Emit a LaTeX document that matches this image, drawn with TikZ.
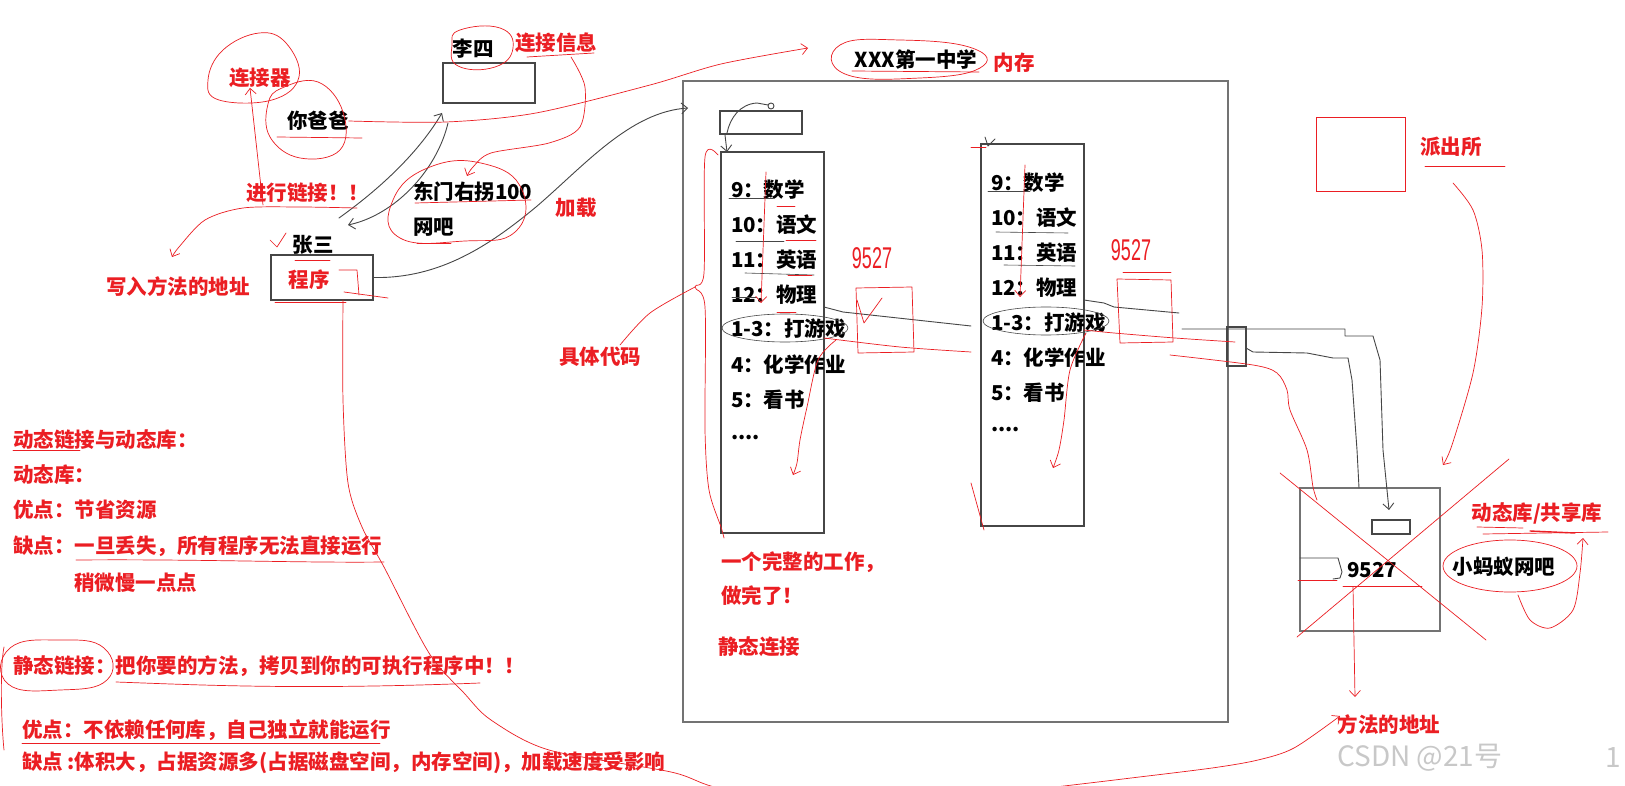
\documentclass[tikz,border=0pt]{standalone}
\usepackage{fontspec}
\setmainfont{Noto Sans CJK SC}
\newfontfamily\numfont{Liberation Sans}
\usetikzlibrary{arrows.meta,calc}
\definecolor{pen}{RGB}{235,30,35}
\definecolor{ink}{RGB}{70,70,70}
\definecolor{wm}{RGB}{200,200,200}
\begin{document}
\begin{tikzpicture}[x=1pt,y=-1pt,
  txt/.style={font=\bfseries\fontsize{20.5}{24}\selectfont, inner sep=0pt, outer sep=0pt},
  ktxt/.style={txt, text=black},
  rtxt/.style={txt, text=pen},
  hand/.style={font=\numfont\fontsize{30}{30}\selectfont, text=pen, xscale=0.6, inner sep=0pt},
  frame/.style={draw=ink, line width=1.1pt, inner sep=0pt, outer sep=0pt, anchor=north west},
  rl/.style={draw=pen, line width=0.7pt, line cap=round, line join=round},
  kl/.style={draw=ink, line width=0.9pt, line cap=round, line join=round},
  tip/.style={-{Straight Barb[length=6pt,width=11pt]}},
]
\useasboundingbox (0,0) rectangle (1625,786);
\fill[white] (0,0) rectangle (1625,786);

% ---------- boxes ----------
\node[frame, draw=black!55, line width=1.4pt, minimum width=545pt, minimum height=641pt] (mem) at (683,81) {};
\node[frame, minimum width=92pt, minimum height=40pt] (lisibox) at (443,63) {};
\node[frame, minimum width=102pt, minimum height=45pt] (prog) at (271,255) {};
\node[frame, minimum width=82pt, minimum height=23pt] (small) at (720,111) {};
\node[frame, minimum width=103pt, minimum height=381pt] (col1) at (721,152) {};
\node[frame, minimum width=103pt, minimum height=382pt] (col2) at (981,144) {};
\node[frame, minimum width=19pt, minimum height=39pt] (port) at (1227,327) {};
\node[frame, draw=black!55, line width=1.2pt, minimum width=140pt, minimum height=143pt] (lib) at (1300,488) {};
\node[frame, minimum width=38pt, minimum height=14pt] (libslot) at (1372,520) {};
\node[frame, draw=pen, line width=0.9pt, minimum width=89pt, minimum height=74pt] (police) at (1316,117) {};

% ---------- black texts ----------
\node[ktxt] (baba) at (318,121) {你爸爸};
\node[ktxt] (lisi) at (473,49) {李四};
\node[ktxt,anchor=west] (dongmen) at (413,192) {东门右拐100};
\node[ktxt,anchor=west] (wangba) at (413,227) {网吧};
\node[ktxt] (zhangsan) at (313,245) {张三};
\node[ktxt] (school) at (916,60) {XXX第一中学};
\foreach \t/\y [count=\i] in {9：数学/190,10：语文/225,11：英语/260,12：物理/295,1-3：打游戏/329,4：化学作业/365,5：看书/400}
  \node[ktxt,anchor=west] (a\i) at (731,\y) {\t};
\node[ktxt,anchor=west] (a8) at (731,438) {....};
\foreach \t/\y [count=\i] in {9：数学/183,10：语文/218,11：英语/253,12：物理/288,1-3：打游戏/323,4：化学作业/358,5：看书/393}
  \node[ktxt,anchor=west] (b\i) at (991,\y) {\t};
\node[ktxt,anchor=west] (b8) at (991,430) {....};
\node[ktxt] (n9527) at (1372,570) {9527};
\node[ktxt] (xiaomayi) at (1504,567) {小蚂蚁网吧};

% ---------- red texts ----------
\node[rtxt] (lianjieqi) at (260,78) {连接器};
\node[rtxt] (xinxi) at (556,43) {连接信息};
\node[rtxt,anchor=west] (jinxing) at (246,193) {进行链接！！};
\node[rtxt] (jiazai) at (576,208) {加载};
\node[rtxt] (chengxu) at (309,280) {程序};
\node[rtxt] (xieru) at (178,287) {写入方法的地址};
\node[rtxt] (neicun) at (1014,63) {内存};
\node[rtxt] (daima) at (600,357) {具体代码};
\node[rtxt,anchor=west] (wanzheng) at (721,562) {一个完整的工作，};
\node[rtxt,anchor=west] (zuowan) at (721,596) {做完了！};
\node[rtxt,anchor=west] (jingtai) at (718,647) {静态连接};
\node[rtxt] (pcs) at (1451,147) {派出所};
\node[rtxt] (dtk) at (1537,513) {动态库/共享库};
\node[rtxt] (ffdz) at (1389,725) {方法的地址};

\node[rtxt,anchor=west] (l1) at (13,440) {动态链接与动态库：};
\node[rtxt,anchor=west] (l2) at (13,475) {动态库：};
\node[rtxt,anchor=west] (l3) at (13,510) {优点：节省资源};
\node[rtxt,anchor=west] (l4) at (13,546) {缺点：一旦丢失，所有程序无法直接运行};
\node[rtxt,anchor=west] (l5) at (74,583) {稍微慢一点点};
\node[rtxt,anchor=west] (l6) at (13,666) {静态链接：把你要的方法，拷贝到你的可执行程序中！！};
\node[rtxt,anchor=west] (l7) at (22,730) {优点：不依赖任何库，自己独立就能运行};
\node[rtxt,anchor=west] (l8) at (22,763) {缺点 :体积大，占据资源多(占据磁盘空间，内存空间)，加载速度受影响};

\node[hand] (h1) at (872,258) {9527};
\node[hand] (h2) at (1131,250) {9527};

\node[font=\fontsize{28}{30}\selectfont, text=wm, inner sep=0pt, anchor=west] (wmk) at (1337,758) {CSDN @21号};
\node[font=\fontsize{28}{30}\selectfont, text=wm, inner sep=0pt, anchor=west] (wmk2) at (1605,758) {1};

% ---------- black strokes ----------
\draw[kl,tip] (prog.east) .. controls (440,279) and (490,245) .. (536,207)
   .. controls (585,165) and (630,112) .. ($(mem.north west)+(5,27)$);
\draw[kl,tip] (339,218) .. controls (385,185) and (420,150) .. (442,113);
\draw[kl,tip] (448,123) .. controls (437,170) and (395,215) .. (348,225);
\draw[kl] (727,133) .. controls (730,118) and (740,104) .. (757,103) -- (768,105);
\draw[kl] (771,106) circle (3);
\draw[kl,tip] (725,135) -- (col1.north west -| 727,154);
\draw[kl] (985,137) -- (988,146) -- (995,139);
\draw[kl] (col1.east |- 0,307) -- (843,312) -- (971,326);
\draw[kl] (col2.east |- 0,300) -- (1104,303) -- (1114,307) -- (1179,313);
\draw[kl] (1182,329) -- (port.north west |- 0,329) -- (1345,329) -- (1345,336) -- (1373,336)
   -- (1380,360) -- (1383,450) [tip] -- (1389,510);
\draw[kl] (1246,348) -- (1253,352) -- (1307,353) -- (1333,358) -- (1348,358) -- (1352,380)
   -- (1357,450) -- (1359,488);
\draw[kl] (1300,558) -- (1338,558) -- (1342,572) -- (1340,578) -- (1333,579);
\draw[ink, line width=0.6pt] (785,328) ellipse [x radius=63, y radius=14];
\draw[ink, line width=0.6pt] (1046,321) ellipse [x radius=63, y radius=14];
% black underlines of list items
\draw[kl, line width=0.6pt] (729,198) -- (773,198);
\draw[kl, line width=0.6pt] (736,241) -- (784,241);
\draw[kl, line width=0.6pt] (745,273) -- (814,275);
\draw[kl, line width=0.6pt] (732,297) -- (757,297);
\draw[kl, line width=0.6pt] (988,191) -- (1030,191);
\draw[kl, line width=0.6pt] (996,232) -- (1068,233);
\draw[kl, line width=0.6pt] (1004,265) -- (1075,266);

% ---------- red strokes ----------
% loops
\draw[rl] plot[smooth cycle, tension=0.7] coordinates {(219,100) (208,80) (223,50) (259,33) (286,43) (299,77) (272,100)};
\draw[rl] plot[smooth cycle, tension=0.7] coordinates {(282,88) (318,82) (343,112) (340,150) (300,158) (270,137) (268,104)};
\draw[rl] (277,137) -- (362,138);
\draw[rl] plot[smooth cycle, tension=0.8] coordinates {(460,30) (500,28) (513,48) (495,67) (458,66) (452,45)};
\draw[rl] (527,57) -- (594,53);
\draw[rl] plot[smooth cycle, tension=0.8] coordinates {(430,167) (485,164) (522,190) (515,232) (465,241) (400,238) (393,200)};
\draw[rl] (415,203) -- (531,200);
\draw[rl] (417,243) -- (451,243);
\draw[rl] plot[smooth cycle, tension=0.8] coordinates {(840,45) (900,40) (972,48) (980,68) (920,78) (845,74)};
\draw[rl] (852,71) -- (979,72);
\draw[rl] plot[smooth cycle, tension=0.8] coordinates {(10,648) (60,640) (104,648) (107,680) (60,690) (8,684)};
\draw[rl] (4,647) .. controls (0,667) and (1,720) .. (4,750);
\draw[rl] (1510,566) ellipse [x radius=67, y radius=26];
% underlines
\draw[rl] (13,450) -- (80,450);
\draw[rl] (76,560) .. controls (200,559) and (300,563) .. (384,562);
\draw[rl] (116,682) .. controls (200,685) and (300,690) .. (480,683);
\draw[rl] (22,743) -- (380,743);
\draw[rl] (1425,166) -- (1505,166);
\draw[rl] (1477,527) -- (1523,528);
\draw[rl] (1483,534) -- (1608,532);
\draw[rl, line width=1.4pt] (1530,531) -- (1575,533);
\draw[rl] (1343,586) -- (1422,586);
\draw[rl] (1298,580) -- (1337,580);
% connector-like red strokes
\draw[rl,tip] (263,205) -- (lianjieqi.south -| 250,103);
\draw[rl,tip] plot[smooth] coordinates {(357,208) (300,207) (243,208) (205,220) (179,247) (172,257)};
\draw[rl,tip] plot[smooth] coordinates {(571,57) (585,87) (580,127) (549,143) (491,153) (473,167) (467,176)};
\draw[rl,tip] plot[smooth] coordinates {(baba.east) (446,122) (536,113) (650,85) (721,64) (808,48)};
\draw[rl,tip] plot[smooth] coordinates {(prog.south -| 343,290) (343,400) (348,483) (362,527) (384,567) (429,653) (464,693) (491,720) (549,750) (671,772) (730,790) (900,805) (1064,786) (1131,778) (1212,768) (1258,760) (1294,748) (1340,716)};
\draw[rl] (270,240) -- (277,247) -- (286,233);
\draw[rl] (295,260) -- (330,260);
\draw[rl] (275,302) -- (346,302);
\draw[rl] (339,270) -- (357,270) -- (359,295);
\draw[rl] (344,292) -- (388,298);
% memory box red strokes
\draw[rl] plot[smooth] coordinates {(620,345) (650,313) (695,287)};
\draw[rl] plot[smooth] coordinates {(718,155) (705,157) (704,273) (695,287) (705,307) (705,430) (709,490) (721,527) (724,538)};
\draw[rl,tip] (766,172) -- (761,303);
\draw[rl,tip] (1025,165) -- (1020,297);
\draw[rl,tip] plot[smooth] coordinates {(836,340) (818,360) (807,407) (800,440) (797,463) (793,475)};
\draw[rl,tip] plot[smooth] coordinates {(1086,333) (1070,370) (1064,420) (1059,450) (1053,468)};
\draw[rl] plot[smooth] coordinates {(col1.east |- 0,338) (900,347) (971,352)};
\draw[rl] plot[smooth] coordinates {(col2.east |- 0,330) (1114,333) (1175,338) (1235,342)};
\draw[rl] (971,147) -- (986,147);
\draw[rl] (971,483) -- (984,530);
\draw[rl] (777,206) -- (795,206);
\draw[rl] (786,240) -- (816,240);
\draw[rl] (788,275) -- (812,275);
\draw[rl] (777,312) -- (796,312);
\draw[rl] (856,288) -- (912,287) -- (914,352) -- (858,353) -- cycle;
\draw[rl] (1117,279) -- (1171,280) -- (1173,342) -- (1120,343) -- cycle;
\draw[rl] (1123,272) -- (1171,272);
\draw[rl] (857,300) -- (864,323) -- (882,298);
% right side
\draw[rl] plot[smooth] coordinates {(1170,355) (1253,365) (1277,373) (1287,390) (1290,410) (1307,450) (1313,487) (1317,500)};
\draw[rl,tip] plot[smooth] coordinates {(1453,183) (1473,210) (1482,250) (1482,307) (1473,373) (1452,445) (1443,465)};
\draw[rl] (1280,473) -- (1486,640);
\draw[rl] (1509,459) -- (1297,637);
\draw[rl,tip] (1353,587) -- (1355,697);
\draw[rl,tip] plot[smooth] coordinates {(1518,595) (1530,620) (1550,628) (1573,610) (1580,573) (1583,538)};
\end{tikzpicture}
\end{document}
